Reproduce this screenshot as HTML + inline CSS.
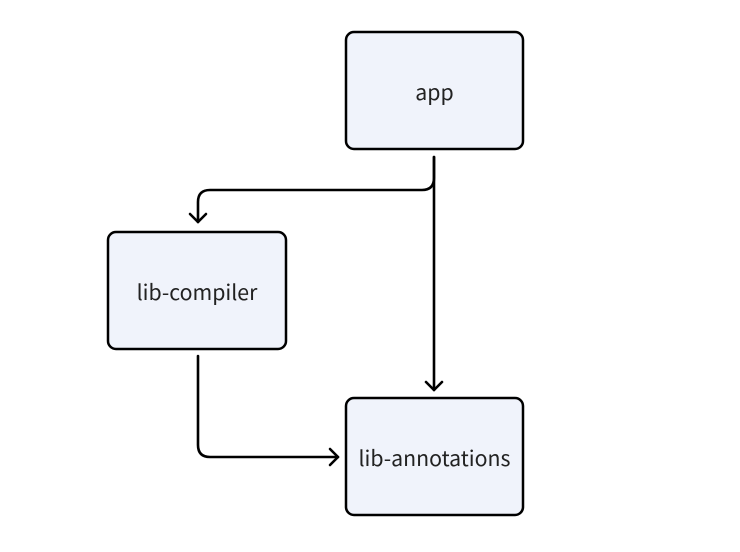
<!DOCTYPE html>
<html><head><meta charset="utf-8"><style>
html,body{margin:0;padding:0;background:#fff;width:740px;height:552px;overflow:hidden}
svg{display:block}
text{font-family:"Noto Sans CJK SC","Liberation Sans",sans-serif;font-size:21.3px;fill:#222}
</style></head><body>
<svg width="740" height="552" viewBox="0 0 740 552">
<g fill="#f0f3fb" stroke="#000" stroke-width="2.5">
<rect x="346" y="32" width="177" height="117" rx="8"/>
<rect x="108" y="232" width="178" height="117" rx="8"/>
<rect x="346" y="398" width="177" height="117" rx="8"/>
</g>
<g fill="none" stroke="#000" stroke-width="2.6" stroke-linecap="round" stroke-linejoin="round">
<path d="M434 157 V178 Q434 190 422 190 H210 Q198 190 198 202 V222"/>
<path d="M190 214 L198 222 L206 214"/>
<path d="M434 157 V390"/>
<path d="M426 382 L434 390 L442 382"/>
<path d="M198 356 V445 Q198 457 210 457 H338"/>
<path d="M330 449 L338 457 L330 465"/>
</g>
<text x="434.5" y="100" text-anchor="middle">app</text>
<text x="197" y="300" text-anchor="middle">lib-compiler</text>
<text x="434.5" y="466" text-anchor="middle">lib-annotations</text>
</svg>
</body></html>
